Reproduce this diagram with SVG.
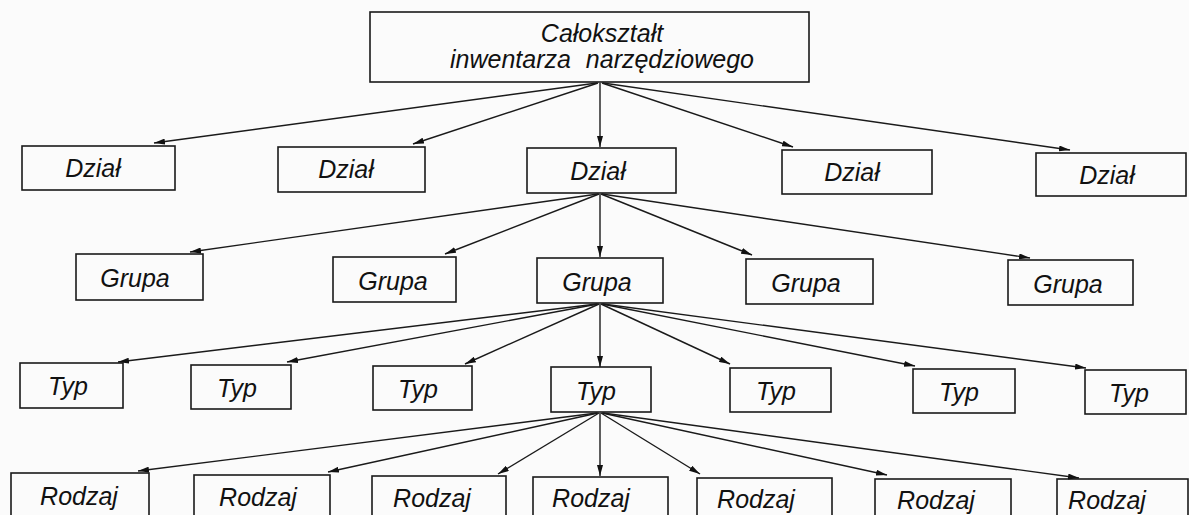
<svg xmlns="http://www.w3.org/2000/svg" width="1189" height="515" viewBox="0 0 1189 515">
<defs>
<marker id="ah" markerUnits="userSpaceOnUse" markerWidth="11" markerHeight="6" refX="11" refY="3" orient="auto">
<path d="M0,0 L11,3 L0,6 z" fill="#111"/>
</marker>
<style>
.box{fill:none;stroke:#1a1a1a;stroke-width:1.6}
.t{font-family:"Liberation Sans",Arial,sans-serif;font-style:italic;font-size:25px;fill:#111;text-anchor:middle}
.c line{stroke:#1a1a1a;stroke-width:1.4;marker-end:url(#ah)}
</style>
</defs>
<rect x="0" y="0" width="1189" height="515" fill="#fbfbfb"/>

<g id="root">
<rect class="box" x="370" y="12" width="439" height="70"/>
<text class="t" x="602" y="42">Całokształt</text>
<text class="t" x="602" y="68" word-spacing="8">inwentarza narzędziowego</text>
</g>

<g id="dzial1"><rect class="box" x="22" y="146" width="153" height="44"/><text class="t" x="93" y="177">Dział</text></g>
<g id="dzial2"><rect class="box" x="278" y="147" width="147" height="45"/><text class="t" x="346" y="178">Dział</text></g>
<g id="dzial3"><rect class="box" x="527" y="148" width="149" height="45"/><text class="t" x="598" y="180">Dział</text></g>
<g id="dzial4"><rect class="box" x="782" y="150" width="150" height="44"/><text class="t" x="852" y="181">Dział</text></g>
<g id="dzial5"><rect class="box" x="1036" y="153" width="150" height="43"/><text class="t" x="1107" y="184">Dział</text></g>

<g id="grupa1"><rect class="box" x="76" y="254" width="127" height="46"/><text class="t" x="135" y="287">Grupa</text></g>
<g id="grupa2"><rect class="box" x="333" y="257" width="123" height="45"/><text class="t" x="393" y="290">Grupa</text></g>
<g id="grupa3"><rect class="box" x="537" y="258" width="126" height="45"/><text class="t" x="597" y="291">Grupa</text></g>
<g id="grupa4"><rect class="box" x="746" y="259" width="127" height="45"/><text class="t" x="806" y="292">Grupa</text></g>
<g id="grupa5"><rect class="box" x="1008" y="260" width="125" height="45"/><text class="t" x="1068" y="293">Grupa</text></g>

<g id="typ1"><rect class="box" x="20" y="363" width="103" height="45"/><text class="t" x="68" y="395">Typ</text></g>
<g id="typ2"><rect class="box" x="191" y="365" width="100" height="44"/><text class="t" x="237" y="397">Typ</text></g>
<g id="typ3"><rect class="box" x="373" y="366" width="99" height="44"/><text class="t" x="418" y="398">Typ</text></g>
<g id="typ4"><rect class="box" x="551" y="367" width="100" height="45"/><text class="t" x="596" y="400">Typ</text></g>
<g id="typ5"><rect class="box" x="730" y="368" width="101" height="44"/><text class="t" x="776" y="400">Typ</text></g>
<g id="typ6"><rect class="box" x="913" y="369" width="102" height="44"/><text class="t" x="959" y="401">Typ</text></g>
<g id="typ7"><rect class="box" x="1085" y="370" width="101" height="44"/><text class="t" x="1129" y="402">Typ</text></g>

<g id="rodzaj1"><rect class="box" x="11" y="473" width="138" height="50"/><text class="t" x="79" y="505">Rodzaj</text></g>
<g id="rodzaj2"><rect class="box" x="194" y="475" width="136" height="50"/><text class="t" x="258" y="506">Rodzaj</text></g>
<g id="rodzaj3"><rect class="box" x="372" y="476" width="134" height="50"/><text class="t" x="432" y="507">Rodzaj</text></g>
<g id="rodzaj4"><rect class="box" x="533" y="477" width="135" height="50"/><text class="t" x="591" y="507">Rodzaj</text></g>
<g id="rodzaj5"><rect class="box" x="697" y="478" width="135" height="50"/><text class="t" x="756" y="508">Rodzaj</text></g>
<g id="rodzaj6"><rect class="box" x="875" y="479" width="136" height="50"/><text class="t" x="936" y="509">Rodzaj</text></g>
<g id="rodzaj7"><rect class="box" x="1057" y="479" width="131" height="50"/><text class="t" x="1107" y="509">Rodzaj</text></g>

<g id="connectors" class="c">
<line x1="597" y1="83" x2="154" y2="143"/>
<line x1="598" y1="83" x2="413" y2="144"/>
<line x1="600" y1="83" x2="600" y2="147"/>
<line x1="602" y1="83" x2="793" y2="147"/>
<line x1="603" y1="83" x2="1070" y2="150"/>

<line x1="598" y1="194" x2="190" y2="252"/>
<line x1="599" y1="194" x2="445" y2="254"/>
<line x1="600" y1="194" x2="600" y2="257"/>
<line x1="601" y1="194" x2="752" y2="255"/>
<line x1="602" y1="194" x2="1030" y2="258"/>

<line x1="597" y1="304" x2="118" y2="362"/>
<line x1="598" y1="304" x2="287" y2="362"/>
<line x1="599" y1="304" x2="465" y2="364"/>
<line x1="600" y1="304" x2="600" y2="367"/>
<line x1="601" y1="304" x2="730" y2="364"/>
<line x1="602" y1="304" x2="915" y2="366"/>
<line x1="603" y1="304" x2="1086" y2="368"/>

<line x1="597" y1="413" x2="138" y2="471"/>
<line x1="598" y1="413" x2="328" y2="472"/>
<line x1="599" y1="413" x2="498" y2="474"/>
<line x1="600" y1="413" x2="600" y2="476"/>
<line x1="601" y1="413" x2="700" y2="474"/>
<line x1="602" y1="413" x2="887" y2="475"/>
<line x1="603" y1="413" x2="1079" y2="478"/>
</g>
</svg>
